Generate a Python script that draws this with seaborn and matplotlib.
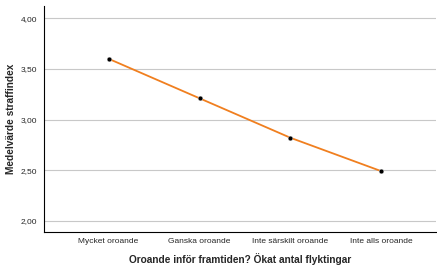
import pandas as pd
import seaborn as sns
import matplotlib.pyplot as plt
from matplotlib.ticker import FuncFormatter

categories = ["Mycket oroande", "Ganska oroande", "Inte särskilt oroande", "Inte alls oroande"]
means = [3.60, 3.21, 2.82, 2.49]

df = pd.DataFrame({"cat": categories, "mean": means})

sns.set_style("white")
plt.rcParams['font.family'] = ['Liberation Sans', 'DejaVu Sans']

fig = plt.figure(figsize=(4.37, 2.65), dpi=100)
ax = fig.add_axes([0.1007, 0.1245, 0.897, 0.8525])

sns.lineplot(data=df, x="cat", y="mean", color="#f07f1f", linewidth=1.3, sort=False, ax=ax)
sns.scatterplot(data=df, x="cat", y="mean", color="black", s=12, zorder=5, ax=ax)

ax.set_ylim(1.89, 4.12)
ax.set_xlim(-0.71, 3.6)
ax.set_yticks([2.0, 2.5, 3.0, 3.5, 4.0])
ax.yaxis.set_major_formatter(FuncFormatter(lambda v, p: f"{v:.2f}".replace(".", ",")))
ax.grid(axis="y", color="#c8c8c8", linewidth=0.8)
ax.set_axisbelow(True)
ax.tick_params(axis="x", labelsize=6, length=0, pad=4)
ax.tick_params(axis="y", labelsize=6, length=0, pad=5)
for s in ["top", "right"]:
    ax.spines[s].set_visible(False)
for s in ["left", "bottom"]:
    ax.spines[s].set_color("black")
    ax.spines[s].set_linewidth(0.8)
ax.set_xlabel("Oroande inför framtiden? Ökat antal flyktingar", fontsize=7.3, fontweight="bold", labelpad=6)
ax.set_ylabel("Medelvärde straffindex", fontsize=7.3, fontweight="bold", labelpad=3)

fig.savefig("out.png", dpi=100)
